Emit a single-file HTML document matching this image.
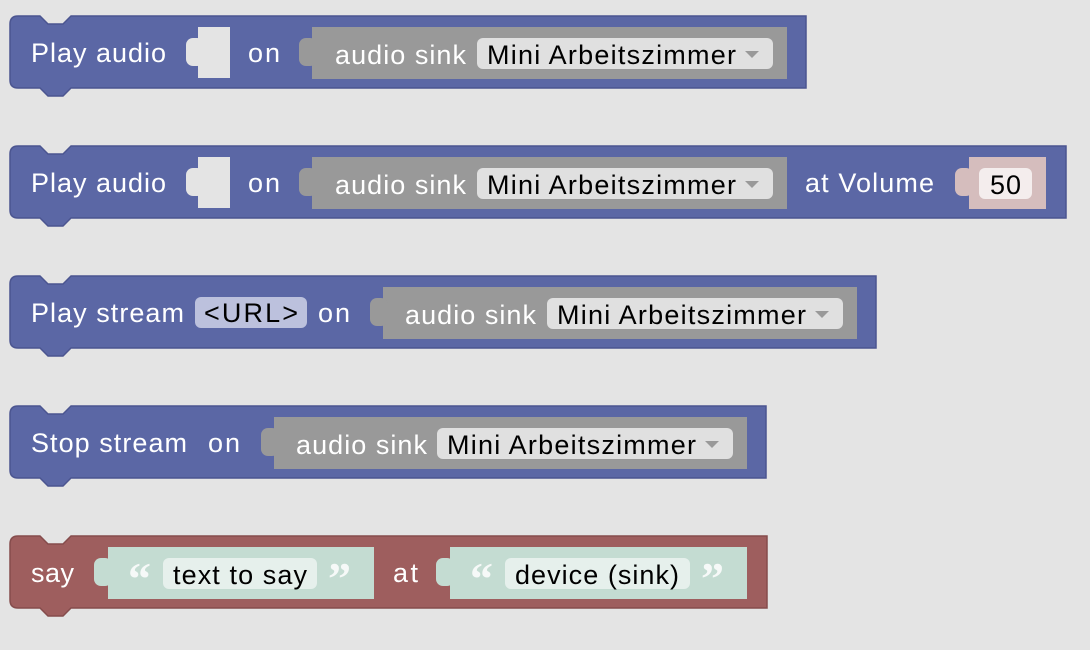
<!DOCTYPE html>
<html><head><meta charset="utf-8"><style>
html,body{margin:0;padding:0;background:#e4e4e4;}
svg{display:block}
text{font-family:"Liberation Sans",sans-serif;font-size:27px;}
.w{fill:#fff}.k{fill:#000}
.q{font-family:"Liberation Serif",serif;font-weight:bold;font-size:46px;fill:#fff;opacity:.85}
</style></head><body>
<svg width="1090" height="650" viewBox="0 0 1090 650">
<!-- Block 1 -->
<path d="M10,24 Q10,16 18,16 H40 L48,24 H63 L71,16 H806 V88 H71 L63,96 H48 L40,88 H18 Q10,88 10,80 Z" fill="#5b67a5" stroke="#4b5590" stroke-width="1.5"/>
<rect x="198" y="27" width="32" height="51" fill="#e4e4e4"/>
<rect x="186" y="38" width="18" height="28" rx="7" fill="#e4e4e4"/>
<rect x="312" y="27" width="475" height="52" fill="#999"/>
<rect x="299" y="38" width="18" height="28" rx="7" fill="#999"/>
<rect x="477" y="38" width="296" height="31" rx="6" fill="#e0e0e0"/>
<text x="31" y="62" class="w" textLength="135">Play audio</text>
<text x="248" y="62" class="w" textLength="32">on</text>
<text x="335" y="64" class="w" textLength="131">audio sink</text>
<text x="487" y="64" class="k" textLength="249">Mini Arbeitszimmer</text>
<path d="M745,51 h14 l-7,7 z" fill="#999"/>

<!-- Block 2 -->
<path d="M10,154 Q10,146 18,146 H40 L48,154 H63 L71,146 H1066 V218 H71 L63,226 H48 L40,218 H18 Q10,218 10,210 Z" fill="#5b67a5" stroke="#4b5590" stroke-width="1.5"/>
<rect x="198" y="157" width="32" height="51" fill="#e4e4e4"/>
<rect x="186" y="168" width="18" height="28" rx="7" fill="#e4e4e4"/>
<rect x="312" y="157" width="475" height="52" fill="#999"/>
<rect x="299" y="168" width="18" height="28" rx="7" fill="#999"/>
<rect x="477" y="168" width="296" height="31" rx="6" fill="#e0e0e0"/>
<text x="31" y="192" class="w" textLength="135">Play audio</text>
<text x="248" y="192" class="w" textLength="32">on</text>
<text x="335" y="194" class="w" textLength="131">audio sink</text>
<text x="487" y="194" class="k" textLength="249">Mini Arbeitszimmer</text>
<path d="M745,181 h14 l-7,7 z" fill="#999"/>
<text x="805" y="192" class="w" textLength="129">at Volume</text>
<rect x="969" y="157" width="77" height="52" fill="#d5bdbd"/>
<rect x="955" y="168" width="18" height="28" rx="7" fill="#d5bdbd"/>
<rect x="979" y="168" width="53" height="31" rx="6" fill="#f4eded"/>
<text x="990" y="194" class="k" textLength="31">50</text>

<!-- Block 3 -->
<path d="M10,284 Q10,276 18,276 H40 L48,284 H63 L71,276 H876 V348 H71 L63,356 H48 L40,348 H18 Q10,348 10,340 Z" fill="#5b67a5" stroke="#4b5590" stroke-width="1.5"/>
<text x="31" y="322" class="w" textLength="153">Play stream</text>
<rect x="195" y="297" width="112" height="31" rx="6" fill="#bcc1dd"/>
<text x="204" y="322" class="k" textLength="94">&lt;URL&gt;</text>
<text x="318" y="322" class="w" textLength="32">on</text>
<rect x="383" y="287" width="474" height="52" fill="#999"/>
<rect x="370" y="298" width="18" height="28" rx="7" fill="#999"/>
<rect x="547" y="298" width="296" height="31" rx="6" fill="#e0e0e0"/>
<text x="405" y="324" class="w" textLength="131">audio sink</text>
<text x="557" y="324" class="k" textLength="249">Mini Arbeitszimmer</text>
<path d="M815,311 h14 l-7,7 z" fill="#999"/>

<!-- Block 4 -->
<path d="M10,414 Q10,406 18,406 H40 L48,414 H63 L71,406 H766 V478 H71 L63,486 H48 L40,478 H18 Q10,478 10,470 Z" fill="#5b67a5" stroke="#4b5590" stroke-width="1.5"/>
<text x="31" y="452" class="w" textLength="156">Stop stream</text>
<text x="208" y="452" class="w" textLength="32">on</text>
<rect x="274" y="417" width="473" height="52" fill="#999"/>
<rect x="261" y="428" width="18" height="28" rx="7" fill="#999"/>
<rect x="437" y="428" width="296" height="31" rx="6" fill="#e0e0e0"/>
<text x="296" y="454" class="w" textLength="131">audio sink</text>
<text x="447" y="454" class="k" textLength="249">Mini Arbeitszimmer</text>
<path d="M705,441 h14 l-7,7 z" fill="#999"/>

<!-- Block 5 -->
<path d="M10,544 Q10,536 18,536 H40 L48,544 H63 L71,536 H767 V608 H71 L63,616 H48 L40,608 H18 Q10,608 10,600 Z" fill="#9e5e5e" stroke="#854c4c" stroke-width="1.5"/>
<text x="31" y="582" class="w" textLength="43">say</text>
<rect x="108" y="547" width="266" height="52" fill="#c4dcd2"/>
<rect x="94" y="558" width="18" height="28" rx="7" fill="#c4dcd2"/>
<text x="128" y="594" class="q">“</text>
<rect x="163" y="558" width="154" height="31" rx="6" fill="#e6f0ec"/>
<text x="173" y="584" class="k" textLength="134">text to say</text>
<text x="328" y="594" class="q">”</text>
<text x="393" y="582" class="w" textLength="25">at</text>
<rect x="450" y="547" width="297" height="52" fill="#c4dcd2"/>
<rect x="436" y="558" width="18" height="28" rx="7" fill="#c4dcd2"/>
<text x="470" y="594" class="q">“</text>
<rect x="505" y="558" width="185" height="31" rx="6" fill="#e6f0ec"/>
<text x="515" y="584" class="k" textLength="164">device (sink)</text>
<text x="701" y="594" class="q">”</text>
</svg>
</body></html>
